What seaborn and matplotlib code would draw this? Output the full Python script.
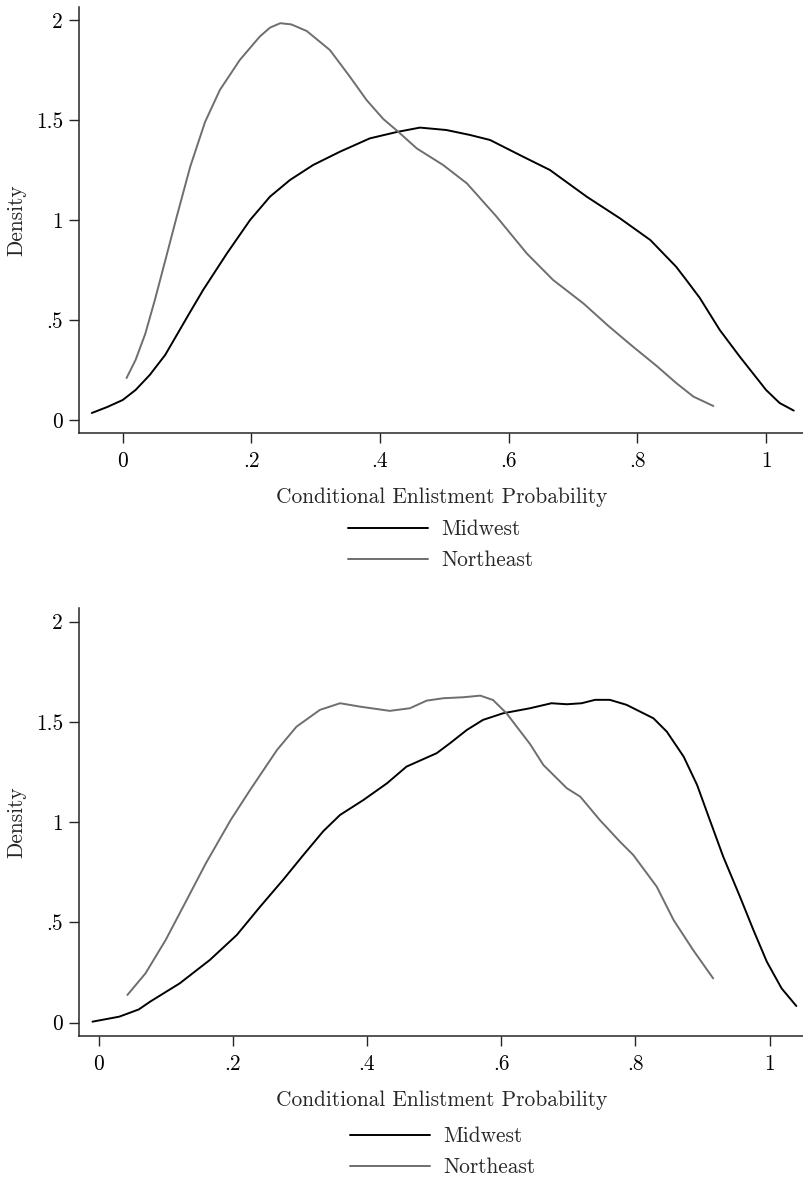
import numpy as np
import pandas as pd
import matplotlib
matplotlib.use("Agg")
import matplotlib.pyplot as plt
import seaborn as sns

# Kernel density curves of the conditional enlistment probability, by region
# Panel A
top_mw_x = [-0.048, -0.024, 0.0, 0.02, 0.042, 0.066, 0.081, 0.103, 0.125, 0.162,
            0.198, 0.229, 0.26, 0.296, 0.338, 0.384, 0.426, 0.462, 0.503, 0.54,
            0.571, 0.622, 0.664, 0.721, 0.773, 0.82, 0.86, 0.876, 0.897, 0.928,
            0.959, 1.0, 1.021, 1.043]
top_mw_y = [0.035, 0.065, 0.10, 0.15, 0.225, 0.325, 0.408, 0.53, 0.65, 0.833,
            1.0, 1.117, 1.20, 1.275, 1.342, 1.408, 1.44, 1.462, 1.45, 1.425,
            1.40, 1.317, 1.25, 1.117, 1.008, 0.90, 0.767, 0.70, 0.61, 0.45,
            0.317, 0.15, 0.085, 0.047]

top_ne_x = [0.006, 0.02, 0.035, 0.05, 0.068, 0.084, 0.105, 0.128, 0.151, 0.182,
            0.213, 0.229, 0.245, 0.262, 0.286, 0.322, 0.353, 0.379, 0.405, 0.428,
            0.457, 0.498, 0.535, 0.581, 0.628, 0.669, 0.716, 0.755, 0.793, 0.83,
            0.861, 0.887, 0.918]
top_ne_y = [0.21, 0.30, 0.43, 0.60, 0.82, 1.017, 1.267, 1.49, 1.65, 1.80,
            1.917, 1.962, 1.984, 1.978, 1.945, 1.85, 1.717, 1.60, 1.505, 1.442,
            1.358, 1.275, 1.183, 1.017, 0.833, 0.70, 0.583, 0.47, 0.367, 0.27,
            0.183, 0.117, 0.07]

# Panel B
bot_mw_x = [-0.009, 0.031, 0.06, 0.077, 0.121, 0.166, 0.206, 0.241, 0.275, 0.305,
            0.335, 0.36, 0.395, 0.43, 0.459, 0.504, 0.524, 0.549, 0.573, 0.603,
            0.643, 0.675, 0.698, 0.72, 0.74, 0.762, 0.787, 0.827, 0.847, 0.872,
            0.892, 0.911, 0.931, 0.956, 0.976, 0.996, 1.018, 1.04]
bot_mw_y = [0.005, 0.03, 0.066, 0.105, 0.196, 0.313, 0.437, 0.579, 0.712, 0.835,
            0.955, 1.036, 1.111, 1.194, 1.277, 1.344, 1.394, 1.46, 1.51, 1.543,
            1.568, 1.593, 1.588, 1.593, 1.61, 1.61, 1.585, 1.518, 1.451, 1.327,
            1.186, 1.011, 0.828, 0.628, 0.462, 0.304, 0.171, 0.083]

bot_ne_x = [0.043, 0.07, 0.1, 0.13, 0.16, 0.197, 0.226, 0.266, 0.295, 0.33,
            0.36, 0.39, 0.434, 0.464, 0.489, 0.514, 0.544, 0.569, 0.588, 0.608,
            0.643, 0.663, 0.698, 0.718, 0.747, 0.777, 0.797, 0.832, 0.857, 0.886,
            0.916]
bot_ne_y = [0.138, 0.246, 0.412, 0.603, 0.795, 1.011, 1.161, 1.36, 1.476, 1.56,
            1.593, 1.576, 1.555, 1.568, 1.606, 1.618, 1.623, 1.631, 1.609, 1.543,
            1.39, 1.285, 1.169, 1.127, 1.011, 0.903, 0.836, 0.678, 0.512, 0.363,
            0.221]

regions = ["Midwest", "Northeast"]
region_colors = ["#000000", "#6e6e6e"]

x_ticks = [0, 0.2, 0.4, 0.6, 0.8, 1.0]
x_tick_labels = ["0", ".2", ".4", ".6", ".8", "1"]
y_ticks = [0, 0.5, 1.0, 1.5, 2.0]
y_tick_labels = ["0", ".5", "1", "1.5", "2"]

x_title = "Conditional Enlistment Probability"
y_title = "Density"


def frame(mw_x, mw_y, ne_x, ne_y):
    a = pd.DataFrame({"x": mw_x, "density": mw_y, "region": regions[0]})
    b = pd.DataFrame({"x": ne_x, "density": ne_y, "region": regions[1]})
    return pd.concat([a, b], ignore_index=True)


panels = [
    frame(top_mw_x, top_mw_y, top_ne_x, top_ne_y),
    frame(bot_mw_x, bot_mw_y, bot_ne_x, bot_ne_y),
]

sns.set_theme(style="white")
plt.rcParams["font.family"] = ["cmr10", "DejaVu Serif"]
plt.rcParams["axes.formatter.use_mathtext"] = True
plt.rcParams["axes.unicode_minus"] = False

W, H = 804, 1179
fig = plt.figure(figsize=(W / 100, H / 100), dpi=100)

# axes rectangles in pixels: (left, top, right, bottom)
boxes = [(79, 7, 804, 433), (79, 608, 804, 1035.7)]
xlims = [(-0.0679, 1.0589), (-0.0291, 1.0514)]
ylims = [(-0.065, 2.065), (-0.065, 2.068)]
legend_anchor = [(348, 545), (350, 1152)]

fs = 15.4
spine_col = "#262626"

for df, box, xl, yl, la in zip(panels, boxes, xlims, ylims, legend_anchor):
    l, t, r, b = box
    ax = fig.add_axes([l / W, 1 - b / H, (r - l) / W, (b - t) / H])
    sns.lineplot(data=df, x="x", y="density", hue="region", hue_order=regions,
                 palette=region_colors, sort=False, estimator=None,
                 linewidth=1.4, legend=False, ax=ax)
    ax.set_xlim(*xl)
    ax.set_ylim(*yl)
    ax.set_xticks(x_ticks)
    ax.set_xticklabels(x_tick_labels)
    ax.set_yticks(y_ticks)
    ax.set_yticklabels(y_tick_labels)
    ax.tick_params(axis="both", which="major", direction="out", length=7.5,
                   width=1.0, color=spine_col, labelsize=fs, labelcolor="black",
                   left=True, bottom=True)
    ax.tick_params(axis="x", pad=6)
    ax.tick_params(axis="y", pad=4)
    for side in ("top", "right"):
        ax.spines[side].set_visible(False)
    for side in ("left", "bottom"):
        ax.spines[side].set_color(spine_col)
        ax.spines[side].set_linewidth(1.1)
    ax.set_xlabel(x_title, fontsize=fs, labelpad=12)
    ax.set_ylabel(y_title, fontsize=fs, labelpad=7)
    ax.grid(False)
    handles = ax.get_lines()[:2]
    fig.legend(handles, regions, loc="center left",
               bbox_to_anchor=(la[0] / W, 1 - la[1] / H),
               bbox_transform=fig.transFigure, frameon=False, fontsize=fs,
               borderpad=0, borderaxespad=0, handlelength=3.75,
               handletextpad=0.6, labelspacing=0.55)

fig.savefig("out.png", dpi=100, facecolor="white")
